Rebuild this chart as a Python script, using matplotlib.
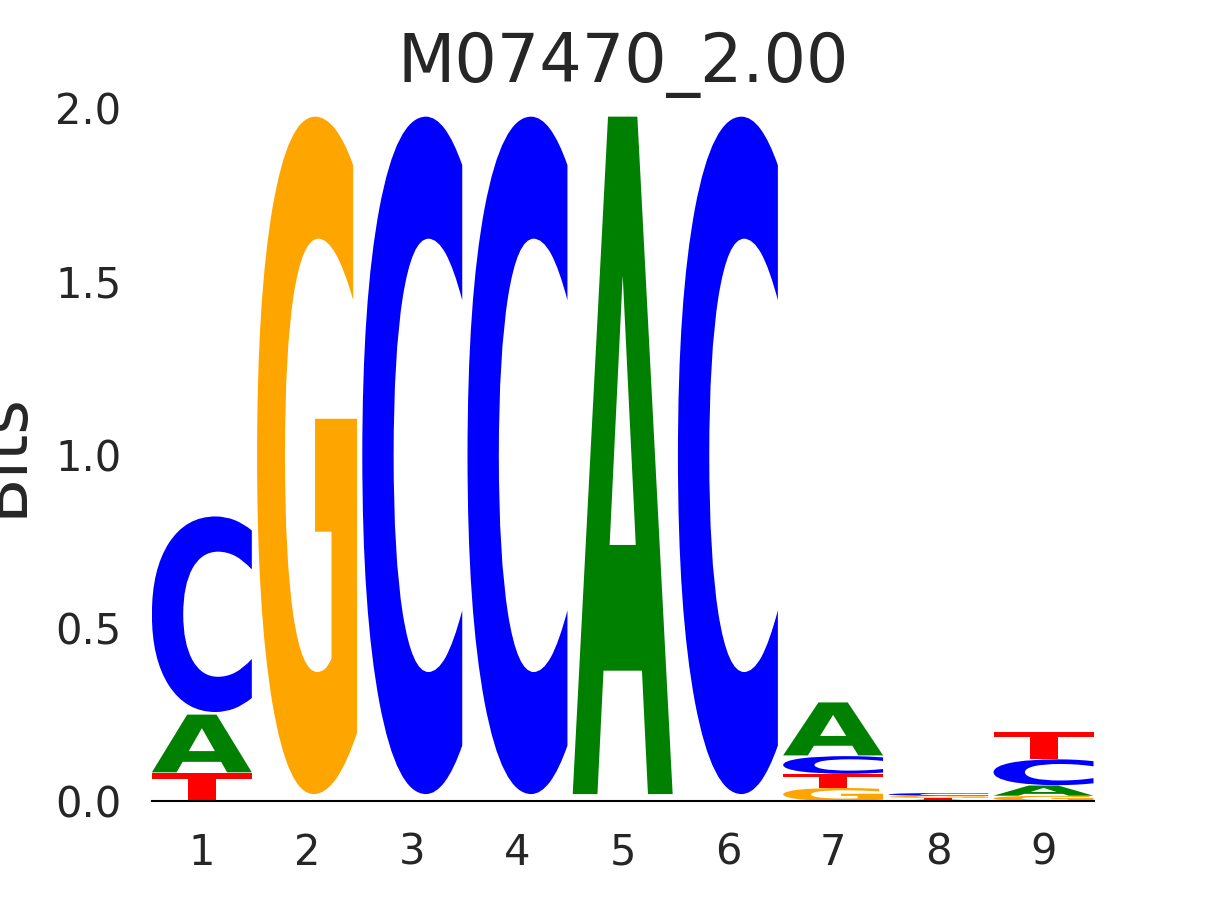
import numpy as np
import matplotlib
matplotlib.use("Agg")
import matplotlib.pyplot as plt
from matplotlib.textpath import TextPath
from matplotlib.patches import PathPatch
from matplotlib.font_manager import FontProperties
from matplotlib.transforms import Affine2D

# information (bits) per letter at each motif position
positions = [1, 2, 3, 4, 5, 6, 7, 8, 9]
bits_A = [0.170, 0.0, 0.0, 0.0, 1.995, 0.0, 0.156, 0.004, 0.030]
bits_C = [0.576, 0.0, 1.995, 1.995, 0.0, 1.995, 0.052, 0.008, 0.076]
bits_G = [0.0, 1.995, 0.0, 0.0, 0.0, 0.0, 0.038, 0.006, 0.015]
bits_T = [0.081, 0.0, 0.0, 0.0, 0.0, 0.0, 0.040, 0.005, 0.078]

colors = {"A": "#008000", "C": "#0000ff", "G": "#ffa500", "T": "#ff0000"}
title = "M07470_2.00"

fp = FontProperties(family="DejaVu Sans", weight="bold")
W = 0.95


def glyph(ax, ch, x, floor, ceil, color, width=W, vpad=0.02):
    path = TextPath((0, 0), ch, size=1, prop=fp)
    ext = path.get_extents()
    h = (ceil - floor) * (1 - vpad)
    y0 = floor + (ceil - floor) * vpad / 2
    tr = (Affine2D().translate(-ext.x0, -ext.y0)
          .scale(width / ext.width, h / ext.height)
          .translate(x - width / 2, y0))
    ax.add_patch(PathPatch(tr.transform_path(path), fc=color, ec="none", lw=0))


fig = plt.figure(figsize=(12.15, 9), dpi=100)
ax = fig.add_subplot(111)

table = {"A": bits_A, "C": bits_C, "G": bits_G, "T": bits_T}
for i, p in enumerate(positions):
    vals = sorted([(table[k][i], k) for k in "ACGT"])
    floor = 0.0
    for v, k in vals:
        if v <= 0:
            continue
        glyph(ax, k, p, floor, floor + v, colors[k])
        floor += v

ax.set_xlim(positions[0] - W / 2, positions[-1] + W / 2)
ax.set_ylim(0, 2.0)
ax.set_xticks(positions)
ax.set_yticks([0, 0.5, 1.0, 1.5, 2.0])
ax.set_yticklabels(["0.0", "0.5", "1.0", "1.5", "2.0"])
ax.tick_params(length=0, labelsize=30, labelcolor="#262626", pad=22)
for s in ["left", "right", "top"]:
    ax.spines[s].set_visible(False)
ax.spines["bottom"].set_color("black")
ax.spines["bottom"].set_linewidth(1.5)
ax.set_ylabel("Bits", fontsize=48, color="#262626", labelpad=14)
ax.set_title(title, fontsize=48, color="#262626", pad=19)

fig.savefig("out.png", dpi=100)
